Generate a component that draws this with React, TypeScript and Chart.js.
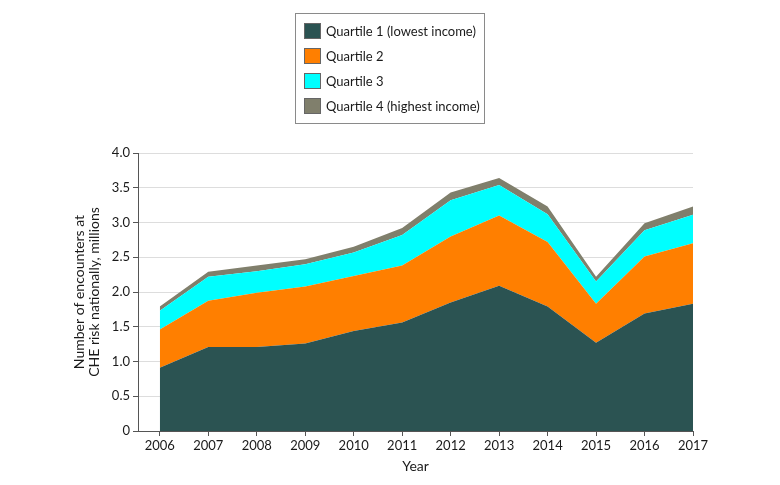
import React, { useEffect, useRef } from 'react';
import { Chart, registerables } from 'chart.js';

Chart.register(...registerables);

// years on the x axis
const years = [2006, 2007, 2008, 2009, 2010, 2011, 2012, 2013, 2014, 2015, 2016, 2017];

// encounters per quartile (millions), stacked
const quartile1 = [0.91, 1.21, 1.21, 1.26, 1.44, 1.56, 1.85, 2.09, 1.79, 1.27, 1.69, 1.83];
const quartile2 = [0.55, 0.665, 0.78, 0.82, 0.79, 0.82, 0.95, 1.01, 0.93, 0.56, 0.82, 0.87];
const quartile3 = [0.27, 0.345, 0.31, 0.32, 0.34, 0.44, 0.52, 0.44, 0.4, 0.32, 0.38, 0.41];
const quartile4 = [0.06, 0.07, 0.08, 0.07, 0.08, 0.1, 0.11, 0.1, 0.11, 0.07, 0.1, 0.12];

const seriesLabels = [
    'Quartile 1 (lowest income)',
    'Quartile 2',
    'Quartile 3',
    'Quartile 4 (highest income)',
];
const seriesColors = ['#2b5352', '#ff7f00', '#00ffff', '#807f6c'];

const yTicks = [0, 0.5, 1, 1.5, 2, 2.5, 3, 3.5, 4];

const FONT = 'Lato, "Noto Sans", sans-serif';
const AXIS = '#555555';
const TEXT = '#1a1a1a';

const App: React.FC = () => {
    const chartRef = useRef<HTMLCanvasElement>(null);

    useEffect(() => {
        if (!chartRef.current) return;
        const ctx = chartRef.current.getContext('2d');
        if (!ctx) return;

        const series = [quartile1, quartile2, quartile3, quartile4];

        const chart = new Chart(ctx, {
            type: 'line',
            data: {
                datasets: series.map((values, i) => ({
                    label: seriesLabels[i],
                    data: years.map((yr, j) => ({ x: yr, y: values[j] })),
                    backgroundColor: seriesColors[i],
                    borderColor: seriesColors[i],
                    borderWidth: 0,
                    pointRadius: 0,
                    tension: 0,
                    fill: i === 0 ? 'origin' : '-1',
                })),
            },
            options: {
                responsive: false,
                animation: false,
                layout: { padding: { left: 0, right: 87, top: 153, bottom: 0 } },
                plugins: {
                    legend: { display: false },
                    tooltip: { enabled: false },
                },
                scales: {
                    x: {
                        type: 'linear',
                        min: 2005.55,
                        max: 2017,
                        afterBuildTicks: (scale: any) => {
                            scale.ticks = years.map((v) => ({ value: v }));
                        },
                        afterFit: (scale: any) => {
                            scale.height = 54;
                        },
                        ticks: {
                            callback: (v: any) => String(v),
                            color: TEXT,
                            font: { family: FONT, size: 13 },
                            padding: 2,
                            autoSkip: false,
                            maxRotation: 0,
                        },
                        grid: {
                            drawOnChartArea: false,
                            drawTicks: true,
                            tickLength: 5,
                            tickColor: AXIS,
                        },
                        border: { color: AXIS, width: 1 },
                        title: {
                            display: true,
                            text: 'Year',
                            color: TEXT,
                            font: { family: FONT, size: 14 },
                            padding: { top: 2, bottom: 10 },
                        },
                    },
                    y: {
                        stacked: true,
                        min: 0,
                        max: 4,
                        afterBuildTicks: (scale: any) => {
                            scale.ticks = yTicks.map((v) => ({ value: v }));
                        },
                        afterFit: (scale: any) => {
                            scale.width = 138;
                        },
                        ticks: {
                            callback: (v: any) => (v === 0 ? '0' : Number(v).toFixed(1)),
                            color: TEXT,
                            font: { family: FONT, size: 13 },
                            padding: 3,
                        },
                        grid: {
                            color: '#dddddd',
                            tickLength: 5,
                            tickColor: AXIS,
                        },
                        border: { color: AXIS, width: 1 },
                        title: {
                            display: true,
                            text: ['Number of encounters at', 'CHE risk nationally, millions'],
                            color: TEXT,
                            font: { family: FONT, size: 14, lineHeight: 1.05 },
                            padding: { top: 72, bottom: 0 },
                        },
                    },
                },
            },
        });

        return () => {
            chart.destroy();
        };
    }, []);

    return (
        <div style={{ position: 'fixed', left: 0, top: 0, width: 780, height: 485, background: '#fff' }}>
            <canvas ref={chartRef} width={780} height={485}></canvas>
            <div
                style={{
                    position: 'absolute',
                    left: 295,
                    top: 13,
                    width: 188,
                    height: 109,
                    border: '1px solid #8a8a8a',
                    fontFamily: FONT,
                    fontSize: 13,
                    color: TEXT,
                }}
            >
                {seriesLabels.map((label, i) => (
                    <div
                        key={label}
                        style={{
                            position: 'absolute',
                            left: 8,
                            top: 9 + i * 25,
                            height: 16,
                            display: 'flex',
                            alignItems: 'center',
                            whiteSpace: 'nowrap',
                        }}
                    >
                        <span
                            style={{
                                display: 'inline-block',
                                width: 15,
                                height: 14,
                                background: seriesColors[i],
                                border: '1px solid #666',
                                marginRight: 5,
                            }}
                        />
                        {label}
                    </div>
                ))}
            </div>
        </div>
    );
};

export default App;
